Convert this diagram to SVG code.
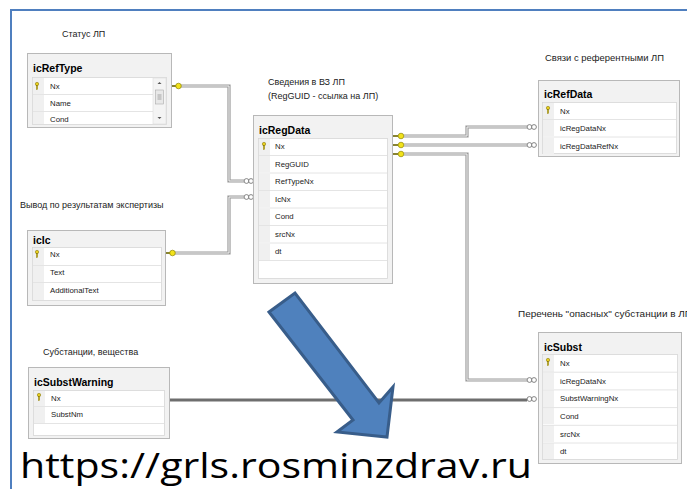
<svg xmlns="http://www.w3.org/2000/svg" width="687" height="489" viewBox="0 0 687 489">
<defs>
<style>
.frame{fill:none;stroke:#4f7fbf;stroke-width:2}
.box{fill:#f2f2f2;stroke:#b8b8b8;stroke-width:1}
.inner{fill:#ffffff;stroke:#d6d6d6;stroke-width:0.8}
.sq{fill:#f0f0f0;stroke:none}
.rl{stroke:#e4e4e4;stroke-width:1}
.ttl{font-family:"Liberation Sans",Arial,sans-serif;font-weight:bold;font-size:10.5px;fill:#000}
.row{font-family:"Liberation Sans",Arial,sans-serif;font-size:7.8px;fill:#222}
.lbl{font-family:"Liberation Sans",Arial,sans-serif;font-size:9px;fill:#222}
.cout{fill:none;stroke:#9a9a9a;stroke-width:3.2}
.cin{fill:none;stroke:#f4f4f4;stroke-width:1}
.dark{fill:none;stroke:#6e6e6e;stroke-width:3}
.ring{fill:#fff;stroke:#777;stroke-width:0.9}
.key{fill:#f2e21a;stroke:#8c8400;stroke-width:0.7}
.stub{stroke:#6b6500;stroke-width:1.6}
.pk{fill:#e8cf1c;stroke:#7a6a00;stroke-width:0.5}
.url{font-family:"Open Sans","Liberation Sans",Arial,sans-serif;font-size:34px;fill:#000}
</style>
<g id="pkicon"><circle class="pk" cx="0" cy="-2" r="1.7"/><rect class="pk" x="-0.6" y="-0.5" width="1.2" height="4"/></g>
</defs>
<rect width="687" height="489" fill="#fff"/>
<path class="frame" d="M11,489 V10 H687"/>

<g id="connectors">
<path class="cout" d="M181,86 H229 V181 H244"/><path class="cin" d="M181,86 H229 V181 H244"/>
<path class="cout" d="M175,253 H229 V197 H244"/><path class="cin" d="M175,253 H229 V197 H244"/>
<path class="cout" d="M404,136 H467 V127 H527"/><path class="cin" d="M404,136 H467 V127 H527"/>
<path class="cout" d="M404,145 H527"/><path class="cin" d="M404,145 H527"/>
<path class="cout" d="M404,154 H467 V380 H527"/><path class="cin" d="M404,154 H467 V380 H527"/>
<path class="dark" d="M170,400 H527"/>
<circle class="ring" cx="246.5" cy="181" r="2.4"/><circle class="ring" cx="251" cy="181" r="2.4"/>
<circle class="ring" cx="246.5" cy="197" r="2.4"/><circle class="ring" cx="251" cy="197" r="2.4"/>
<circle class="ring" cx="529.5" cy="127" r="2.4"/><circle class="ring" cx="534" cy="127" r="2.4"/>
<circle class="ring" cx="529.5" cy="145" r="2.4"/><circle class="ring" cx="534" cy="145" r="2.4"/>
<circle class="ring" cx="529.5" cy="380" r="2.4"/><circle class="ring" cx="534" cy="380" r="2.4"/>
<circle class="ring" cx="529.5" cy="399" r="2.4"/><circle class="ring" cx="534" cy="399" r="2.4"/>
<line class="stub" x1="172" y1="86" x2="176" y2="86"/><circle class="key" cx="178.5" cy="86" r="2.8"/>
<line class="stub" x1="166" y1="253" x2="170" y2="253"/><circle class="key" cx="172.5" cy="253" r="2.8"/>
<line class="stub" x1="393" y1="136" x2="398" y2="136"/><circle class="key" cx="401" cy="136" r="2.8"/>
<line class="stub" x1="393" y1="145" x2="398" y2="145"/><circle class="key" cx="401" cy="145" r="2.8"/>
<line class="stub" x1="393" y1="154" x2="398" y2="154"/><circle class="key" cx="401" cy="154" r="2.8"/>
</g>

<g id="icRefType">
<text class="lbl" x="62" y="37">Статус ЛП</text>
<rect class="box" x="27.5" y="53.5" width="144" height="74"/>
<text class="ttl" x="33" y="72">icRefType</text>
<rect class="inner" x="32.5" y="77.5" width="134" height="47"/>
<rect class="sq" x="33" y="78" width="11" height="16"/><rect class="sq" x="33" y="95" width="11" height="16"/><rect class="sq" x="33" y="112" width="11" height="12"/>
<line class="rl" x1="33" y1="94.5" x2="153" y2="94.5"/><line class="rl" x1="33" y1="111.5" x2="153" y2="111.5"/>
<use href="#pkicon" x="37" y="86"/>
<text class="row" x="50" y="89">Nx</text><text class="row" x="50" y="106">Name</text><text class="row" x="50" y="122">Cond</text>
<rect x="153" y="78" width="13" height="46" fill="#f4f4f4" stroke="#dcdcdc" stroke-width="0.6"/>
<path d="M157.5,84 L159.5,82 L161.5,84 Z" fill="#555"/>
<rect x="155.5" y="90" width="8" height="14" fill="#e8e8e8" stroke="#aaa" stroke-width="0.6"/>
<path d="M157.5,95 H161.5 M157.5,97 H161.5 M157.5,99 H161.5" stroke="#777" stroke-width="0.6"/>
<path d="M157.5,117 L159.5,119 L161.5,117 Z" fill="#555"/>
</g>

<g id="icRegData">
<text class="lbl" x="268" y="85">Сведения в ВЗ ЛП</text>
<text class="lbl" x="268" y="99">(RegGUID - ссылка на ЛП)</text>
<rect class="box" x="253.5" y="115.5" width="139" height="168"/>
<text class="ttl" x="259" y="134">icRegData</text>
<rect class="inner" x="258.5" y="138.5" width="129" height="140"/>
<rect class="sq" x="259" y="139" width="11" height="16"/><rect class="sq" x="259" y="156" width="11" height="16"/><rect class="sq" x="259" y="174" width="11" height="16"/><rect class="sq" x="259" y="191" width="11" height="16"/><rect class="sq" x="259" y="209" width="11" height="16"/><rect class="sq" x="259" y="226" width="11" height="16"/><rect class="sq" x="259" y="244" width="11" height="16"/>
<line class="rl" x1="259" y1="155.5" x2="387" y2="155.5"/><line class="rl" x1="259" y1="173" x2="387" y2="173"/><line class="rl" x1="259" y1="190.5" x2="387" y2="190.5"/><line class="rl" x1="259" y1="208" x2="387" y2="208"/><line class="rl" x1="259" y1="225.5" x2="387" y2="225.5"/><line class="rl" x1="259" y1="243" x2="387" y2="243"/><line class="rl" x1="259" y1="260.5" x2="387" y2="260.5"/>
<use href="#pkicon" x="264" y="146"/>
<text class="row" x="275" y="149">Nx</text><text class="row" x="275" y="167">RegGUID</text><text class="row" x="275" y="184">RefTypeNx</text><text class="row" x="275" y="202">IcNx</text><text class="row" x="275" y="219">Cond</text><text class="row" x="275" y="237">srcNx</text><text class="row" x="275" y="254">dt</text>
</g>

<g id="icRefData">
<text class="lbl" x="545" y="61" textLength="119" lengthAdjust="spacingAndGlyphs">Связи с референтными ЛП</text>
<rect class="box" x="538.5" y="80.5" width="141" height="76"/>
<text class="ttl" x="544" y="98">icRefData</text>
<rect class="inner" x="542.5" y="102.5" width="134" height="51"/>
<rect class="sq" x="543" y="103" width="11" height="16"/><rect class="sq" x="543" y="120" width="11" height="16"/><rect class="sq" x="543" y="138" width="11" height="16"/>
<line class="rl" x1="543" y1="119.5" x2="676" y2="119.5"/><line class="rl" x1="543" y1="137" x2="676" y2="137"/>
<use href="#pkicon" x="548" y="110"/>
<text class="row" x="560" y="114">Nx</text><text class="row" x="560" y="131">icRegDataNx</text><text class="row" x="560" y="149">icRegDataRefNx</text>
</g>

<g id="icIc">
<text class="lbl" x="20" y="208">Вывод по результатам экспертизы</text>
<rect class="box" x="27.5" y="230.5" width="138" height="75"/>
<text class="ttl" x="33" y="244">icIc</text>
<rect class="inner" x="32.5" y="247.5" width="129" height="53"/>
<rect class="sq" x="33" y="248" width="11" height="17"/><rect class="sq" x="33" y="266" width="11" height="16"/><rect class="sq" x="33" y="283" width="11" height="17"/>
<line class="rl" x1="33" y1="265.5" x2="161" y2="265.5"/><line class="rl" x1="33" y1="282.5" x2="161" y2="282.5"/>
<use href="#pkicon" x="37" y="254"/>
<text class="row" x="50" y="257">Nx</text><text class="row" x="50" y="275">Text</text><text class="row" x="50" y="293">AdditionalText</text>
</g>

<g id="icSubstWarning">
<text class="lbl" x="43" y="355">Субстанции, вещества</text>
<rect class="box" x="28.5" y="367.5" width="141" height="71"/>
<text class="ttl" x="34" y="386">icSubstWarning</text>
<rect class="inner" x="33.5" y="390.5" width="131" height="45"/>
<rect class="sq" x="34" y="391" width="11" height="15"/><rect class="sq" x="34" y="407" width="11" height="16"/>
<line class="rl" x1="34" y1="406.5" x2="164" y2="406.5"/><line class="rl" x1="34" y1="423.5" x2="164" y2="423.5"/>
<use href="#pkicon" x="39" y="397"/>
<text class="row" x="51" y="401">Nx</text><text class="row" x="51" y="417">SubstNm</text>
</g>

<g id="icSubst">
<text class="lbl" x="518" y="317" textLength="174" lengthAdjust="spacingAndGlyphs">Перечень "опасных" субстанции в ЛП</text>
<rect class="box" x="538.5" y="332.5" width="143" height="131"/>
<text class="ttl" x="544" y="351">icSubst</text>
<rect class="inner" x="542.5" y="354.5" width="135" height="105"/>
<rect class="sq" x="543" y="355" width="11" height="17"/><rect class="sq" x="543" y="373" width="11" height="16"/><rect class="sq" x="543" y="390" width="11" height="17"/><rect class="sq" x="543" y="408" width="11" height="16"/><rect class="sq" x="543" y="425" width="11" height="17"/><rect class="sq" x="543" y="443" width="11" height="16"/>
<line class="rl" x1="543" y1="372.2" x2="677" y2="372.2"/><line class="rl" x1="543" y1="389.9" x2="677" y2="389.9"/><line class="rl" x1="543" y1="407.6" x2="677" y2="407.6"/><line class="rl" x1="543" y1="425.3" x2="677" y2="425.3"/><line class="rl" x1="543" y1="443" x2="677" y2="443"/>
<use href="#pkicon" x="548" y="362"/>
<text class="row" x="560" y="366">Nx</text><text class="row" x="560" y="384">icRegDataNx</text><text class="row" x="560" y="401">SubstWarningNx</text><text class="row" x="560" y="419">Cond</text><text class="row" x="560" y="437">srcNx</text><text class="row" x="560" y="454">dt</text>
</g>

<polygon points="269,312 295,293 379,403 393,387 387,437 337,432 353,420" fill="#4f81bd" stroke="#385d8a" stroke-width="3" stroke-linejoin="miter"/>
<text class="url" x="20" y="478" textLength="512" lengthAdjust="spacingAndGlyphs">https://grls.rosminzdrav.ru</text>
</svg>
